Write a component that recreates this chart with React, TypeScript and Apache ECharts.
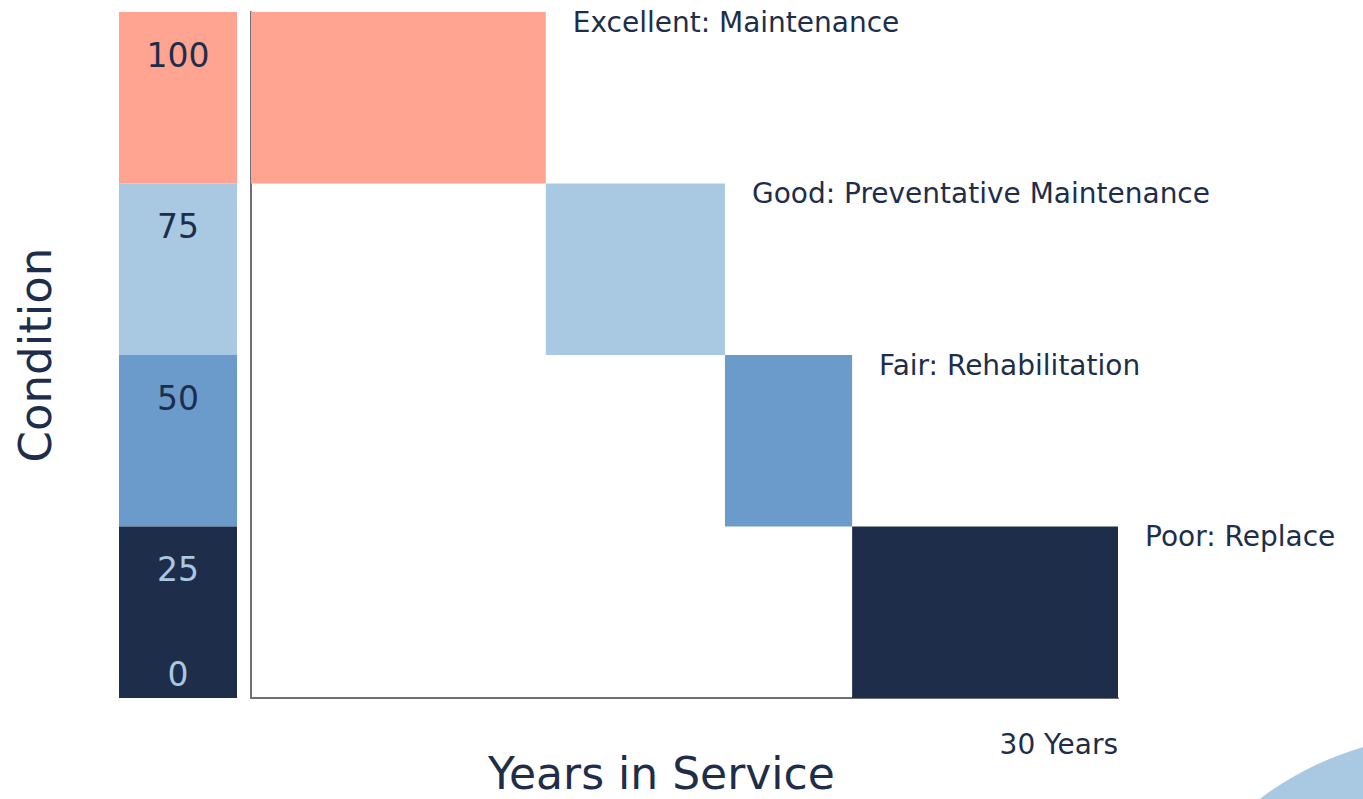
import React, { useEffect, useRef } from "react";
import * as echarts from "echarts";

const stageLabels = [
  "Excellent: Maintenance",
  "Good: Preventative Maintenance",
  "Fair: Rehabilitation",
  "Poor: Replace",
];
const yearStart = [0, 10.2, 16.4, 20.8];
const yearEnd = [10.2, 16.4, 20.8, 30];
const conditionTop = [100, 75, 50, 25];
const conditionBottom = [75, 50, 25, 0];
const stageColors = ["#FFA491", "#A9C8E2", "#6A9BCB", "#1E2E4A"];
const tickLabels = ["100", "75", "50", "25"];
const tickColors = ["#1E2E4A", "#1E2E4A", "#1E2E4A", "#A9C8E2"];
const zeroLabel = "0";
const maxYears = 30;

const FONT = "'DejaVu Sans', sans-serif";
const TEXT = "#1E2E4A";

export default function App() {
  const ref = useRef<HTMLDivElement>(null);
  useEffect(() => {
    if (!ref.current) return;
    const chart = echarts.init(ref.current, null, { renderer: "svg" });

    const mainData = stageLabels.map((s, i) => [
      yearStart[i],
      yearEnd[i],
      conditionTop[i],
      conditionBottom[i],
      i,
    ]);
    const colData = tickLabels.map((t, i) => [
      0,
      1,
      conditionTop[i],
      conditionBottom[i],
      i,
    ]);

    chart.setOption({
      animation: false,
      backgroundColor: "#ffffff",
      grid: [
        { left: 251, top: 12, width: 867, height: 686 },
        { left: 119, top: 12, width: 118, height: 686 },
      ],
      xAxis: [
        {
          gridIndex: 0,
          type: "value",
          min: 0,
          max: maxYears,
          interval: maxYears,
          splitLine: { show: false },
          axisTick: { show: false },
          axisLine: { show: true, lineStyle: { color: "#707070", width: 2 } },
          axisLabel: {
            margin: 32,
            align: "right",
            fontFamily: FONT,
            fontSize: 28,
            color: TEXT,
            formatter: (v: number) => (v === maxYears ? maxYears + " Years" : ""),
          },
        },
        { gridIndex: 1, type: "value", min: 0, max: 1, show: false },
      ],
      yAxis: [
        {
          gridIndex: 0,
          type: "value",
          min: 0,
          max: 100,
          splitLine: { show: false },
          axisTick: { show: false },
          axisLabel: { show: false },
          axisLine: { show: true, lineStyle: { color: "#707070", width: 2 } },
          name: "Condition",
          nameLocation: "middle",
          nameGap: 193,
          nameRotate: 90,
          nameTextStyle: { fontFamily: FONT, fontSize: 45, color: TEXT },
        },
        { gridIndex: 1, type: "value", min: 0, max: 100, show: false },
      ],
      graphic: [
        {
          type: "text",
          left: 488,
          top: 751,
          style: {
            text: "Years in Service",
            fontFamily: FONT,
            fontSize: 44,
            fill: TEXT,
          },
        },
        {
          type: "circle",
          shape: { cx: 1450, cy: 1050, r: 315 },
          style: { fill: "#A9C8E2" },
          z: -1,
        },
      ],
      series: [
        {
          type: "custom",
          xAxisIndex: 0,
          yAxisIndex: 0,
          clip: false,
          data: mainData,
          renderItem: (params: any, api: any) => {
            const i = api.value(4);
            const p0 = api.coord([api.value(0), api.value(2)]);
            const p1 = api.coord([api.value(1), api.value(3)]);
            return {
              type: "group",
              children: [
                {
                  type: "rect",
                  shape: { x: p0[0], y: p0[1], width: p1[0] - p0[0], height: p1[1] - p0[1] },
                  style: { fill: stageColors[i] },
                },
                {
                  type: "text",
                  x: p1[0] + 27,
                  y: p0[1] - 4,
                  style: {
                    text: stageLabels[i],
                    fontFamily: FONT,
                    fontSize: 28,
                    fill: TEXT,
                    verticalAlign: "top",
                    align: "left",
                  },
                },
              ],
            };
          },
        },
        {
          type: "custom",
          xAxisIndex: 1,
          yAxisIndex: 1,
          clip: false,
          data: colData,
          renderItem: (params: any, api: any) => {
            const i = api.value(4);
            const p0 = api.coord([api.value(0), api.value(2)]);
            const p1 = api.coord([api.value(1), api.value(3)]);
            return {
              type: "group",
              children: [
                {
                  type: "rect",
                  shape: { x: p0[0], y: p0[1], width: p1[0] - p0[0], height: p1[1] - p0[1] },
                  style: { fill: stageColors[i] },
                },
                {
                  type: "text",
                  x: (p0[0] + p1[0]) / 2,
                  y: p0[1] + 43,
                  style: {
                    text: tickLabels[i],
                    fontFamily: FONT,
                    fontSize: 33,
                    fill: tickColors[i],
                    verticalAlign: "middle",
                    align: "center",
                  },
                },
              ],
            };
          },
        },
        {
          type: "scatter",
          xAxisIndex: 1,
          yAxisIndex: 1,
          symbolSize: 0,
          data: [[0.5, 3.4]],
          z: 5,
          itemStyle: { opacity: 1 },
          label: {
            show: true,
            position: "inside",
            formatter: zeroLabel,
            fontFamily: FONT,
            fontSize: 33,
            color: "#A9C8E2",
          },
        },
      ],
    });
    return () => chart.dispose();
  }, []);
  return (
    <div
      ref={ref}
      style={{ position: "fixed", left: 0, top: 0, width: 1363, height: 799 }}
    />
  );
}
